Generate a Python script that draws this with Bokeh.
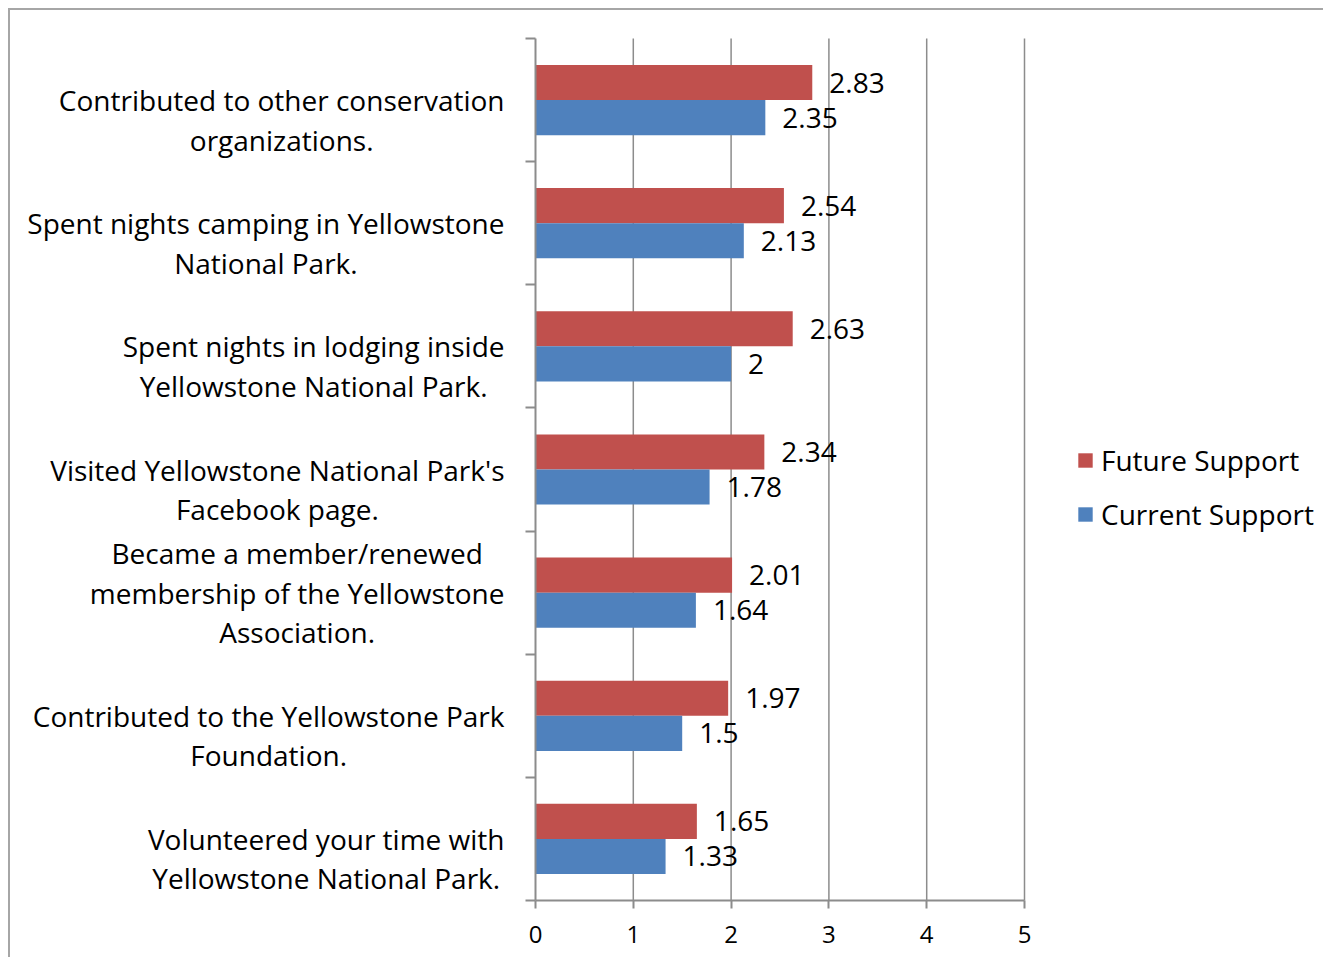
from bokeh.plotting import figure
from bokeh.models import (ColumnDataSource, FixedTicker, Legend, LegendItem,
                          CustomJSTransform, Range1d)
from bokeh.transform import transform
from bokeh.embed import file_html
from bokeh.resources import INLINE
from bokeh.core.properties import value

categories = [
    "Contributed to other conservation\norganizations.",
    "Spent nights camping in Yellowstone\nNational Park.",
    "Spent nights in lodging inside\nYellowstone National Park.",
    "Visited Yellowstone National Park's\nFacebook page.",
    "Became a member/renewed\nmembership of the Yellowstone\nAssociation.",
    "Contributed to the Yellowstone Park\nFoundation.",
    "Volunteered your time with\nYellowstone National Park.",
]
future_support = [2.83, 2.54, 2.63, 2.34, 2.01, 1.97, 1.65]
current_support = [2.35, 2.13, 2.00, 1.78, 1.64, 1.50, 1.33]
series_names = ["Future Support", "Current Support"]
x_ticks = [0, 1, 2, 3, 4, 5]

RED = "#C0504D"
BLUE = "#4F81BD"
GRID = "#8c8c8c"
FONT = "Open Sans"
LABEL_SIZE = 28
LINE_H = 39.5
GAP = 31

# canvas / layout (pixels)
W, H = 1315, 949
PLOT_L, PLOT_R = 525, 1014      # where x = 0 and x = 5 fall
PLOT_T, PLOT_B = 28, 890        # where y = top and y = 0 fall
n = len(categories)
xmax = x_ticks[-1]
ppx = (PLOT_R - PLOT_L) / xmax
ppy = (PLOT_B - PLOT_T) / n
x_range = Range1d(-PLOT_L / ppx, xmax + (W - PLOT_R) / ppx)
y_range = Range1d(-(H - PLOT_B) / ppy, n + PLOT_T / ppy)

bar_h = 0.285
y_center = [n - i - 0.5 for i in range(n)]
src = ColumnDataSource(dict(
    yf=[y + bar_h / 2 for y in y_center],
    yc=[y - bar_h / 2 for y in y_center],
    future=future_support,
    current=current_support,
    flbl=[f"{v:g}" for v in future_support],
    clbl=[f"{v:g}" for v in current_support],
))

p = figure(width=W, height=H, x_range=x_range, y_range=y_range,
           output_backend="svg", toolbar_location=None,
           min_border=0,
           styles={"margin-left": "8px", "margin-top": "8px",
                   "border-left": "2px solid #a6a6a6",
                   "border-top": "2px solid #a6a6a6"})
p.outline_line_color = None
p.background_fill_color = "white"
p.xgrid.grid_line_color = None
p.ygrid.grid_line_color = None

# vertical grid lines over the value area only
gsrc = ColumnDataSource(dict(gx=x_ticks[1:]))
p.segment(x0="gx", y0=0, x1="gx", y1=n, source=gsrc,
          line_color=GRID, line_width=1.5)

rf = p.hbar(y="yf", left=0, right="future", height=bar_h, source=src,
            fill_color=RED, line_color=None)
rc = p.hbar(y="yc", left=0, right="current", height=bar_h, source=src,
            fill_color=BLUE, line_color=None)

for xcol, ycol, tcol in (("future", "yf", "flbl"), ("current", "yc", "clbl")):
    p.text(x=xcol, y=ycol, text=tcol, source=src, x_offset=17,
           text_baseline="middle", text_align="left",
           text_font=value(FONT), text_font_size="28px", text_color="black")

# x axis fixed at y = 0
p.xaxis.fixed_location = 0
p.xaxis.bounds = (0, xmax)
p.xaxis.ticker = FixedTicker(ticks=x_ticks)
p.xaxis.major_tick_out = 8
p.xaxis.major_tick_in = 0
p.xaxis.minor_tick_line_color = None
p.xaxis.axis_line_color = GRID
p.xaxis.axis_line_width = 2
p.xaxis.major_tick_line_color = GRID
p.xaxis.major_tick_line_width = 2
p.xaxis.major_label_text_font = FONT
p.xaxis.major_label_text_font_size = "24px"
p.xaxis.major_label_text_color = "black"
p.xaxis.major_label_standoff = 17

# y axis fixed at x = 0, ticks between categories
p.yaxis.fixed_location = 0
p.yaxis.bounds = (0, n)
p.yaxis.ticker = FixedTicker(ticks=y_center, minor_ticks=list(range(n + 1)))
p.yaxis.major_label_overrides = {y: "" for y in y_center}
p.yaxis.major_tick_out = 0
p.yaxis.major_tick_in = 0
p.yaxis.minor_tick_out = 10
p.yaxis.minor_tick_in = 0
p.yaxis.minor_tick_line_color = GRID
p.yaxis.minor_tick_line_width = 2
p.yaxis.axis_line_color = GRID
p.yaxis.axis_line_width = 2

# category labels: centred lines, block right-aligned next to the axis
lx, ly, lt, lyo, lg = [], [], [], [], []
for i, cat in enumerate(categories):
    lines = cat.split("\n")
    k = len(lines)
    for j, line in enumerate(lines):
        lx.append(0)
        ly.append(y_center[i])
        lt.append(line)
        lyo.append((j - (k - 1) // 2) * LINE_H)
        lg.append(i)
lsrc = ColumnDataSource(dict(x=lx, y=ly, text=lt, yoff=lyo, grp=lg))

measure = """
const ctx = document.createElement('canvas').getContext('2d');
ctx.font = size + 'px "' + font + '"';
const w = {};
for (let i = 0; i < texts.length; i++) {
  const g = grps[i];
  w[g] = Math.max(w[g] || 0, ctx.measureText(texts[i]).width);
}
"""
xoff_tf = CustomJSTransform(
    args=dict(texts=lt, grps=lg, gap=GAP, size=LABEL_SIZE, font=FONT),
    func=measure + "return -(gap + w[x] / 2);",
    v_func=measure + """
const out = new Array(xs.length);
for (let i = 0; i < xs.length; i++) out[i] = -(gap + w[xs[i]] / 2);
return out;
""")
p.text(x="x", y="y", text="text", source=lsrc,
       x_offset=transform("grp", xoff_tf), y_offset="yoff",
       text_align="center", text_baseline="middle",
       text_font=value(FONT), text_font_size=f"{LABEL_SIZE}px", text_color="black")

legend = Legend(items=[LegendItem(label=series_names[0], renderers=[rf]),
                       LegendItem(label=series_names[1], renderers=[rc])],
                location=(1066, 426), orientation="vertical",
                glyph_width=18, glyph_height=18, label_standoff=7,
                spacing=16, padding=0, margin=0,
                label_text_font=FONT, label_text_font_size="28px",
                label_text_color="black",
                border_line_color=None, background_fill_alpha=0)
p.add_layout(legend)

open("out.html", "w").write(file_html(p, INLINE))
